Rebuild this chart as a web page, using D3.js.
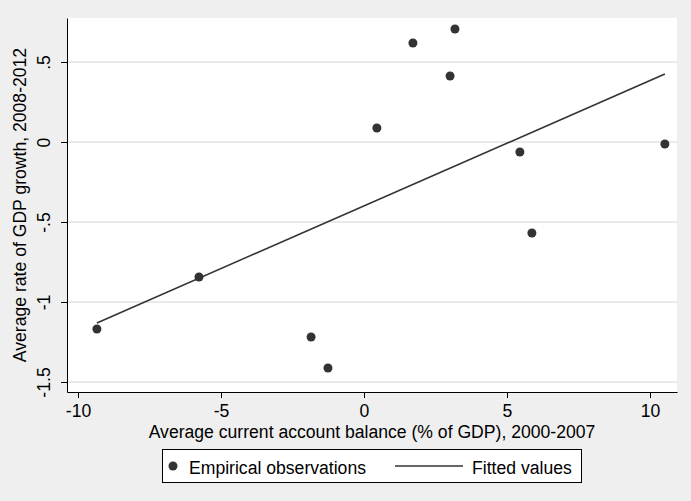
<!DOCTYPE html>
<html>
<head>
<meta charset="utf-8">
<script src="https://cdn.jsdelivr.net/npm/d3@7"></script>
<style>
  html, body { margin: 0; padding: 0; background: #efefef; }
  svg { display: block; font-family: "Liberation Sans", Arial, sans-serif; }
</style>
</head>
<body>
<div id="chart"></div>
<script>
// Average current account balance (% of GDP), 2000-2007
const balance = [3.18, 1.71, 3.01, 0.45, 5.45, 10.52, 5.87, -1.85, -1.26, -9.34, -5.77];
// Average rate of GDP growth, 2008-2012
const growth = [0.706, 0.619, 0.4125, 0.0875, -0.0625, -0.0125, -0.569, -1.219, -1.4125, -1.169, -0.844];

// fitted line, read at its two ends
const fitX = [-9.34, 10.52];
const fitY = [-1.131, 0.425];

const xTicks = [-10, -5, 0, 5, 10];
const yTicks = [0.5, 0, -0.5, -1, -1.5];
const yTickLabels = [".5", "0", "-.5", "-1", "-1.5"];

const legendLabels = ["Empirical observations", "Fitted values"];

const width = 691, height = 501;
const margin = { top: 18, right: 14, bottom: 109, left: 67 };
const ink = "#333333";
const fontSize = 17.6;

const svg = d3.select("#chart")
  .append("svg")
  .attr("width", width)
  .attr("height", height);

svg.append("rect")
  .attr("width", width)
  .attr("height", height)
  .attr("fill", "#efefef");

const x = d3.scaleLinear()
  .domain([-10.385, 10.944])
  .range([margin.left, width - margin.right]);

const y = d3.scaleLinear()
  .domain([-1.5625, 0.775])
  .range([height - margin.bottom, margin.top]);

// plot region
svg.append("rect")
  .attr("x", margin.left)
  .attr("y", margin.top)
  .attr("width", width - margin.left - margin.right)
  .attr("height", height - margin.top - margin.bottom)
  .attr("fill", "#ffffff");

// gridlines
svg.append("g")
  .selectAll("line")
  .data(yTicks)
  .enter()
  .append("line")
  .attr("x1", margin.left)
  .attr("x2", width - margin.right)
  .attr("y1", (d) => y(d))
  .attr("y2", (d) => y(d))
  .attr("stroke", "#eaeaea")
  .attr("stroke-width", 2);

// x axis
const xAxis = svg.append("g")
  .attr("transform", `translate(0, ${height - margin.bottom})`)
  .call(d3.axisBottom(x)
    .tickValues(xTicks)
    .tickSize(6)
    .tickSizeOuter(0)
    .tickFormat(d3.format("d")));
xAxis.select(".domain").attr("stroke", "#000");
xAxis.selectAll(".tick line").attr("stroke", "#000");
xAxis.selectAll(".tick text")
  .attr("font-size", fontSize)
  .attr("font-family", "Liberation Sans, Arial, sans-serif")
  .attr("fill", "#000")
  .attr("dy", null)
  .attr("y", 25)
  .text((d) => d < 0 ? "-" + Math.abs(d) : d);

// y axis
const yAxis = svg.append("g")
  .attr("transform", `translate(${margin.left}, 0)`)
  .call(d3.axisLeft(y)
    .tickValues(yTicks)
    .tickSize(6)
    .tickSizeOuter(0)
    .tickFormat((d, i) => yTickLabels[i]));
yAxis.select(".domain").attr("stroke", "#000");
yAxis.selectAll(".tick line").attr("stroke", "#000");
yAxis.selectAll(".tick text")
  .attr("font-size", fontSize)
  .attr("font-family", "Liberation Sans, Arial, sans-serif")
  .attr("fill", "#000")
  .attr("x", null)
  .attr("dy", null)
  .attr("text-anchor", "middle")
  .attr("transform", "translate(-17, 0) rotate(-90)");

// axis titles
svg.append("text")
  .attr("x", (margin.left + width - margin.right) / 2)
  .attr("y", 438)
  .attr("text-anchor", "middle")
  .attr("font-size", fontSize)
  .text("Average current account balance (% of GDP), 2000-2007");

svg.append("text")
  .attr("text-anchor", "middle")
  .attr("font-size", fontSize)
  .attr("transform", `translate(26, ${(margin.top + height - margin.bottom) / 2}) rotate(-90)`)
  .text("Average rate of GDP growth, 2008-2012");

// fitted line
const points = balance.map((b, i) => ({ b, g: growth[i] }));
const fit = fitX.map((fx, i) => [fx, fitY[i]]);

svg.append("path")
  .datum(fit)
  .attr("fill", "none")
  .attr("stroke", ink)
  .attr("stroke-width", 1.6)
  .attr("d", d3.line().x((d) => x(d[0])).y((d) => y(d[1])));

// observations
svg.append("g")
  .selectAll("circle")
  .data(points)
  .enter()
  .append("circle")
  .attr("cx", (d) => x(d.b))
  .attr("cy", (d) => y(d.g))
  .attr("r", 4.5)
  .attr("fill", ink);

// legend
const legend = svg.append("g");
legend.append("rect")
  .attr("x", 162.5)
  .attr("y", 449.5)
  .attr("width", 419)
  .attr("height", 33)
  .attr("fill", "#fff")
  .attr("stroke", "#000")
  .attr("stroke-width", 1);

legend.append("circle")
  .attr("cx", 173)
  .attr("cy", 466)
  .attr("r", 4.5)
  .attr("fill", ink);
legend.append("text")
  .attr("x", 189)
  .attr("y", 474)
  .attr("font-size", fontSize)
  .text(legendLabels[0]);

legend.append("line")
  .attr("x1", 395)
  .attr("x2", 463)
  .attr("y1", 466)
  .attr("y2", 466)
  .attr("stroke", ink)
  .attr("stroke-width", 1.6);
legend.append("text")
  .attr("x", 472)
  .attr("y", 474)
  .attr("font-size", fontSize)
  .text(legendLabels[1]);
</script>
</body>
</html>
